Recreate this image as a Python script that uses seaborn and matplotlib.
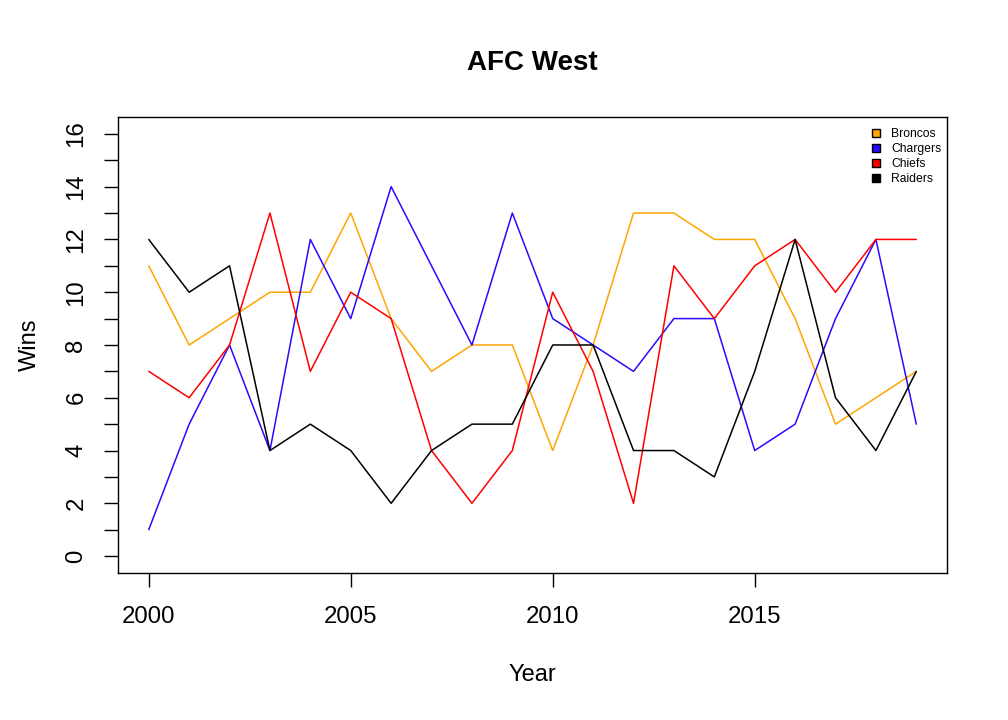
import matplotlib

matplotlib.use("Agg")
import matplotlib.pyplot as plt
import numpy as np
import pandas as pd
import seaborn as sns
from matplotlib.patches import Patch

years = list(range(2000, 2020))
broncos = [11, 8, 9, 10, 10, 13, 9, 7, 8, 8, 4, 8, 13, 13, 12, 12, 9, 5, 6, 7]
chargers = [1, 5, 8, 4, 12, 9, 14, 11, 8, 13, 9, 8, 7, 9, 9, 4, 5, 9, 12, 5]
chiefs = [7, 6, 8, 13, 7, 10, 9, 4, 2, 4, 10, 7, 2, 11, 9, 11, 12, 10, 12, 12]
raiders = [12, 10, 11, 4, 5, 4, 2, 4, 5, 5, 8, 8, 4, 4, 3, 7, 12, 6, 4, 7]

teams = ["Broncos", "Chargers", "Chiefs", "Raiders"]
colors = ["#ffa500", "#2a0aff", "#ff0000", "#000000"]

df = pd.DataFrame(
    {
        "Year": years * 4,
        "Wins": broncos + chargers + chiefs + raiders,
        "Team": np.repeat(teams, len(years)),
    }
)

sns.set_theme(style="ticks")
plt.rcParams["font.family"] = ["Liberation Sans", "DejaVu Sans"]
plt.rcParams["text.color"] = "black"
plt.rcParams["axes.labelcolor"] = "black"

fig = plt.figure(figsize=(10.08, 7.2), dpi=100)
ax = fig.add_axes([0.1171, 0.2042, 0.8224, 0.6333])

sns.lineplot(
    data=df,
    x="Year",
    y="Wins",
    hue="Team",
    palette=dict(zip(teams, colors)),
    linewidth=1.1,
    legend=False,
    ax=ax,
)

ax.set_xlim(2000 - 19 * 0.04, 2019 + 19 * 0.04)
ax.set_ylim(-0.64, 16.64)
ax.set_xticks([2000, 2005, 2010, 2015])
ax.set_yticks(range(0, 17))
ax.set_yticklabels([str(v) if v % 2 == 0 else "" for v in range(0, 17)], rotation=90, va="center")

for side in ["top", "right", "left", "bottom"]:
    ax.spines[side].set_visible(True)
    ax.spines[side].set_linewidth(1.0)
    ax.spines[side].set_color("black")

ax.tick_params(axis="both", direction="out", length=10, width=1.0, color="black",
               labelsize=17.3, labelcolor="black")
ax.tick_params(axis="y", pad=12)
ax.tick_params(axis="x", pad=13.5)

ax.set_xlabel("Year", fontsize=17, labelpad=26)
ax.set_ylabel("Wins", fontsize=17, labelpad=18)
ax.set_title("AFC West", fontsize=20, fontweight="bold", pad=34, color="black")

handles = [Patch(facecolor=c, edgecolor="black", linewidth=1.0, label=t) for t, c in zip(teams, colors)]
ax.legend(
    handles=handles,
    loc="upper right",
    bbox_to_anchor=(1.005, 0.997),
    frameon=False,
    fontsize=8.7,
    handlelength=0.7,
    handleheight=0.7,
    handletextpad=0.9,
    labelspacing=0.25,
    borderaxespad=0.4,
)

fig.savefig("out.png", dpi=100)
